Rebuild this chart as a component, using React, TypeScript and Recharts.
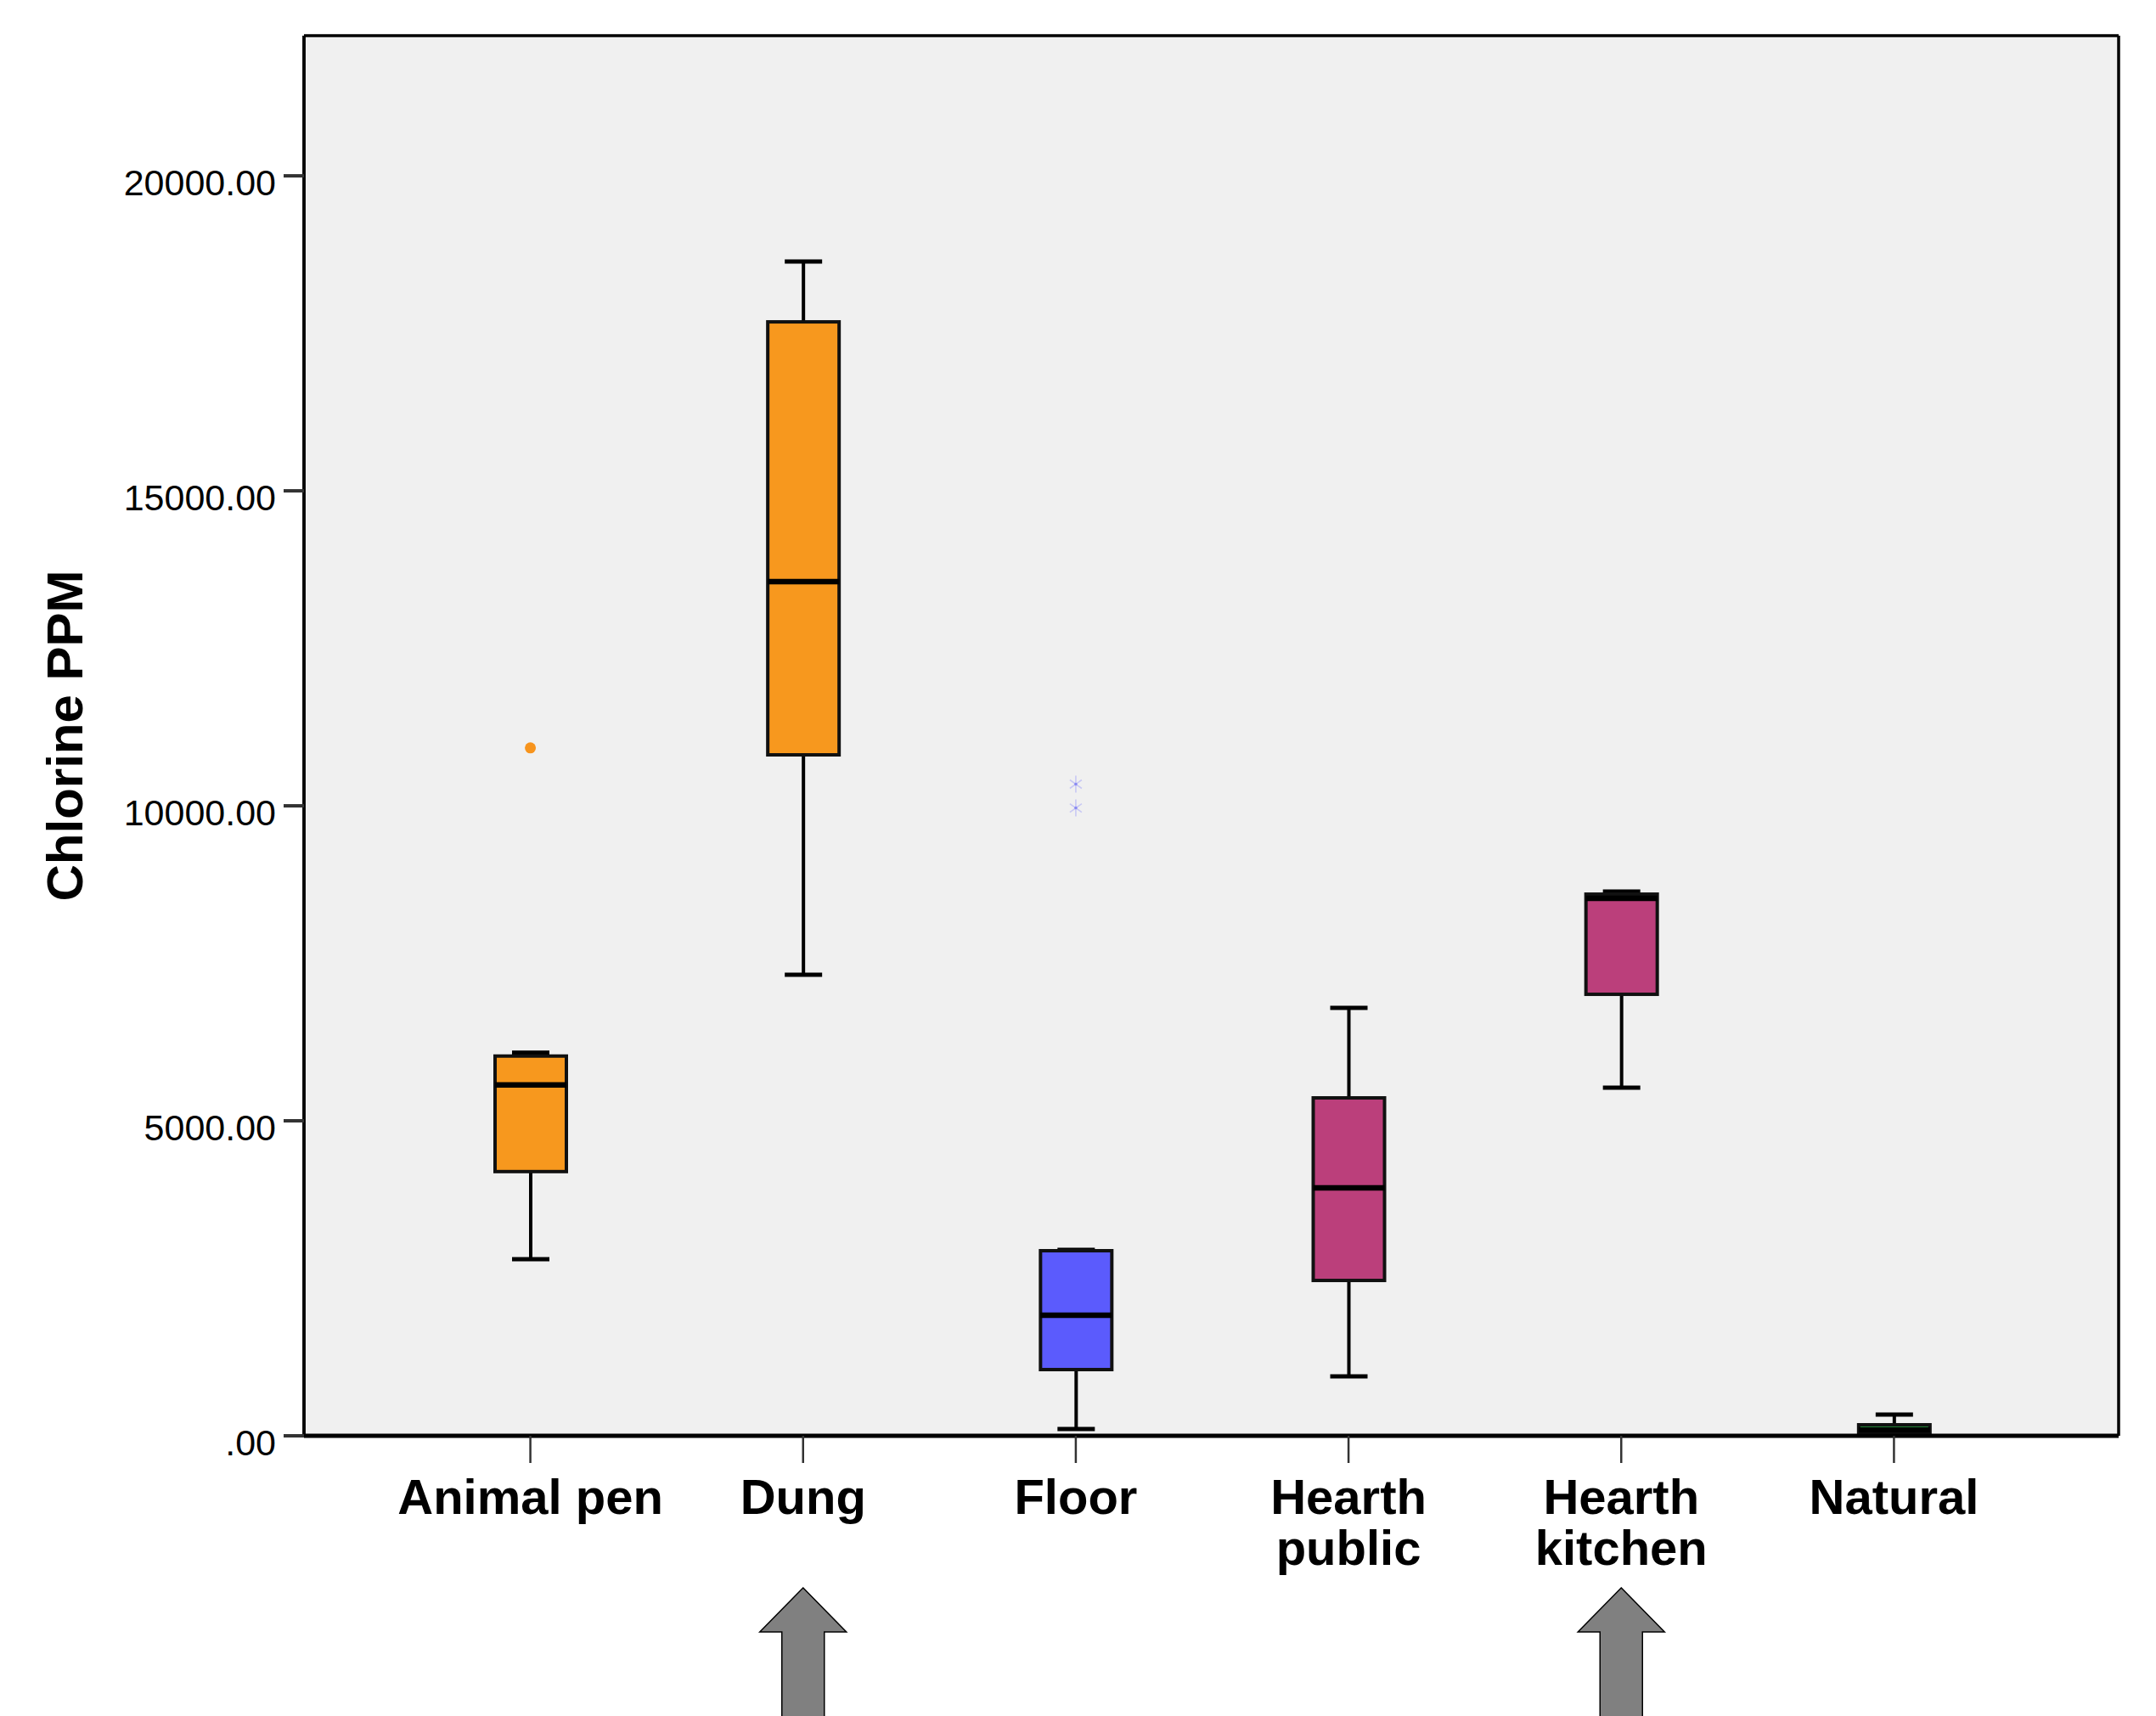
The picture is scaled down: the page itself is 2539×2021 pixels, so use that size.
import React from 'react';
import {
  ComposedChart,
  Bar,
  Line,
  XAxis,
  YAxis,
  CartesianGrid,
  Label
} from 'recharts';

// groups ('\n' = line break in the axis label)
const categories = ['Animal pen', 'Dung', 'Floor', 'Hearth\npublic', 'Hearth\nkitchen', 'Natural'];

// box plot statistics, Chlorine PPM
const whiskerLow = [2805, 7318, 108, 943, 5526, 0];
const quartile1 = [4194, 10809, 1051, 2466, 7008, 27];
const medians = [5570, 13558, 1914, 3935, 8531, 94];
const quartile3 = [6028, 17682, 2938, 5364, 8598, 175];
const whiskerHigh = [6082, 18639, 2950, 6792, 8639, 337];

// outliers (circle = outlier, star = extreme)
const outlierCircle = [10920, null, null, null, null, null];
const outlierStarA = [null, null, 10344, null, null, null];
const outlierStarB = [null, null, 9966, null, null, null];

const boxColors = ['#F7981E', '#F7981E', '#5B5BFD', '#BB3F7B', '#BB3F7B', '#2DB54B'];
const arrowUnder = [false, true, false, false, true, false];

const yTicks = [0, 5000, 10000, 15000, 20000];
const yMax = 22225;

const data = categories.map((cat, i) => ({
  cat,
  range: [whiskerLow[i], whiskerHigh[i]],
  q1: quartile1[i],
  med: medians[i],
  q3: quartile3[i],
  color: boxColors[i],
  outC: outlierCircle[i],
  outA: outlierStarA[i],
  outB: outlierStarB[i]
}));

const fmt = (v: number) => (v === 0 ? '.00' : v.toFixed(2));

const BoxShape = (props: any) => {
  const { x, y, width, height, payload } = props;
  const [lo, hi] = payload.range;
  const k = hi > lo ? height / (hi - lo) : 0;
  const py = (v: number) => y + (hi - v) * k;
  const cx = x + width / 2;
  const cap = 22;
  return (
    <g>
      <line x1={cx} x2={cx} y1={py(hi)} y2={py(lo)} stroke='#000' strokeWidth={4} />
      <line x1={cx - cap} x2={cx + cap} y1={py(hi)} y2={py(hi)} stroke='#000' strokeWidth={5} />
      <line x1={cx - cap} x2={cx + cap} y1={py(lo)} y2={py(lo)} stroke='#000' strokeWidth={5} />
      <rect
        x={x}
        y={py(payload.q3)}
        width={width}
        height={py(payload.q1) - py(payload.q3)}
        fill={payload.color}
        stroke='#111'
        strokeWidth={4}
      />
      <line x1={x} x2={x + width} y1={py(payload.med)} y2={py(payload.med)} stroke='#000' strokeWidth={6.5} />
    </g>
  );
};

const circleDot = (props: any) => {
  const { cx, cy, value, index } = props;
  if (value == null) return <g key={'c' + index} />;
  return <circle key={'c' + index} cx={cx} cy={cy} r={6.5} fill='#F7941D' />;
};

const starDot = (props: any) => {
  const { cx, cy, value, index, dataKey } = props;
  if (value == null) return <g key={dataKey + index} />;
  return (
    <g key={dataKey + index} stroke='#C8C8F4' strokeWidth={1.6}>
      <line x1={cx} x2={cx} y1={cy - 10} y2={cy + 10} />
      <line x1={cx - 7} x2={cx + 7} y1={cy - 5} y2={cy + 5} />
      <line x1={cx - 7} x2={cx + 7} y1={cy + 5} y2={cy - 5} />
      <circle cx={cx} cy={cy} r={1.8} fill='#8A8AF2' stroke='none' />
    </g>
  );
};

const XTick = (props: any) => {
  const { x, y, payload, index } = props;
  const lines = String(payload.value).split('\n');
  return (
    <g>
      <text
        textAnchor='middle'
        fontFamily='Liberation Sans, Arial, sans-serif'
        fontWeight='bold'
        fontSize={58}
        fill='#000'
      >
        {lines.map((l, i) => (
          <tspan key={i} x={x} y={y + 58 + i * 60}>
            {l}
          </tspan>
        ))}
      </text>
      {arrowUnder[index] && (
        <path
          d={`M${x},${y + 145} L${x + 51},${y + 197} L${x + 25},${y + 197} L${x + 25},${y + 310} L${x - 25},${y + 310} L${x - 25},${y + 197} L${x - 51},${y + 197} Z`}
          fill='#808080'
          stroke='#000'
          strokeWidth={1.5}
        />
      )}
    </g>
  );
};

const YTick = (props: any) => {
  const { x, y, payload } = props;
  return (
    <text
      x={x}
      y={y + 8}
      dy='0.355em'
      textAnchor='end'
      fontFamily='Liberation Sans, Arial, sans-serif'
      fontSize={43}
      fill='#000'
    >
      {fmt(payload.value)}
    </text>
  );
};

const YLabel = (props: any) => {
  const { viewBox } = props;
  const cx = viewBox.x + 18;
  const cy = viewBox.y + viewBox.height / 2;
  return (
    <text
      x={cx}
      y={cy}
      transform={`rotate(-90, ${cx}, ${cy})`}
      textAnchor='middle'
      dominantBaseline='central'
      fontFamily='Liberation Sans, Arial, sans-serif'
      fontWeight='bold'
      fontSize={60}
      fill='#000'
    >
      Chlorine PPM
    </text>
  );
};

export default function App() {
  return (
    <div style={{ position: 'absolute', left: 0, top: 0, background: '#fff' }}>
      <ComposedChart
        width={2539}
        height={2021}
        data={data}
        margin={{ top: 42, right: 44, bottom: 30, left: 58 }}
      >
        <CartesianGrid
          fill='#F0F0F0'
          stroke='#000'
          strokeWidth={3.5}
          horizontalCoordinatesGenerator={({ offset }: any) => [offset.top, offset.top + offset.height]}
          verticalCoordinatesGenerator={({ offset }: any) => [offset.left, offset.left + offset.width]}
        />
        <XAxis
          dataKey='cat'
          type='category'
          height={300}
          padding={{ left: 106, right: 104 }}
          axisLine={{ stroke: '#000', strokeWidth: 5 }}
          tickLine={{ stroke: '#333', strokeWidth: 2.5 }}
          tickSize={32}
          tickMargin={2}
          interval={0}
          tick={<XTick />}
        />
        <YAxis
          type='number'
          domain={[0, yMax]}
          ticks={yTicks}
          width={300}
          allowDataOverflow
          axisLine={{ stroke: '#000', strokeWidth: 3.5 }}
          tickLine={{ stroke: '#333', strokeWidth: 4 }}
          tickSize={24}
          tickMargin={9}
          tick={<YTick />}
        >
          <Label content={<YLabel />} />
        </YAxis>
        <Bar dataKey='range' barSize={84} shape={<BoxShape />} isAnimationActive={false} legendType='none' />
        <Line dataKey='outC' stroke='none' dot={circleDot} activeDot={false} isAnimationActive={false} legendType='none' />
        <Line dataKey='outA' stroke='none' dot={starDot} activeDot={false} isAnimationActive={false} legendType='none' />
        <Line dataKey='outB' stroke='none' dot={starDot} activeDot={false} isAnimationActive={false} legendType='none' />
      </ComposedChart>
    </div>
  );
}
